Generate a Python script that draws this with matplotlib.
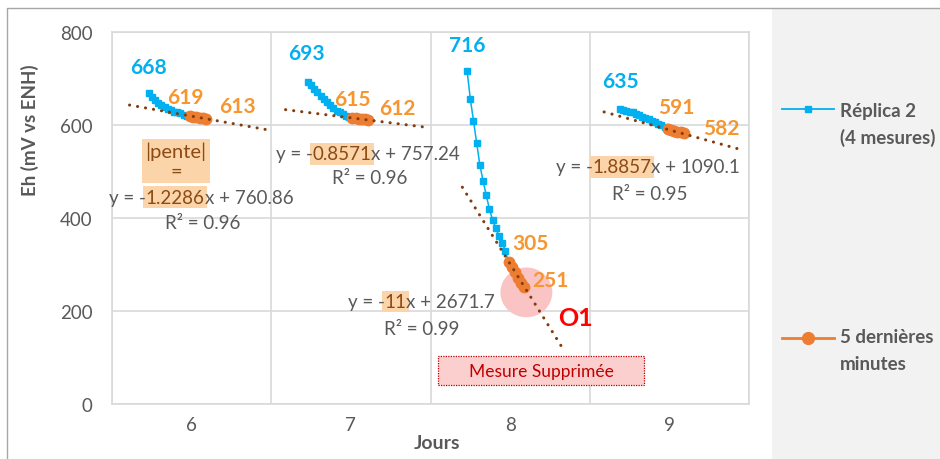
import matplotlib
matplotlib.use("Agg")
import matplotlib.pyplot as plt
from matplotlib.patches import Ellipse, Rectangle
from matplotlib.lines import Line2D
import numpy as np

plt.rcParams['font.family'] = ['Lato', 'DejaVu Sans']

# couleurs
BLUE = '#00B0F0'
ORANGE = '#ED7D31'
LBL_ORANGE = '#F7962F'
TREND = '#843C0C'
GREY = '#595959'
HILITE = '#FBD5A9'
HILITE_TXT = '#8C4A14'

# données : une valeur par minute, 50 minutes par jour sur l'axe
days = [6, 7, 8, 9]
first_min = 90.5          # bord gauche du jour 6 (index de minute)
min_per_day = 50
start_idx = [102, 152, 202, 250]
eh_day6 = [668, 661, 654, 648, 643, 639, 635, 632, 629, 627, 625, 622, 620,
           619, 618, 617, 616, 614, 613]
eh_day7 = [693, 686, 678, 670, 663, 656, 649, 643, 637, 631, 627, 623, 620, 617,
           615, 614.4, 613.6, 613, 612.2, 611.8]
eh_day8 = [716, 656, 609, 561, 514, 480, 449, 419, 396, 378, 361, 346, 330,
           305, 295, 283, 272, 261, 251]
eh_day9 = [635, 633, 631, 629, 627, 624, 621, 618, 615, 612, 609, 606, 603, 599, 595,
           591, 589, 587.5, 585, 584, 582]
series = [eh_day6, eh_day7, eh_day8, eh_day9]
n_last = 6   # points des 5 dernières minutes

# courbes de tendance (équations affichées par Excel)
slopes = [-1.2286, -0.8571, -11, -1.8857]
intercepts = [760.86, 757.24, 2671.7, 1090.1]
r2 = [0.96, 0.96, 0.99, 0.95]
trend_from = [96, 145, 200.5, 245]
trend_to = [140, 190, 232, 288]

# positions des textes (index, mV)
eq_pos = [(110.3, 445), (162.7, 538), (179.5, 220), (250.6, 510)]
r2_pos = [(119.1, 391), (171.3, 488), (187.8, 163), (259.3, 452)]
# décalages des étiquettes (points)
off_first_blue = [(0, 19), (-1, 21), (0, 19), (0, 20)]
off_first_or = [(-3, 14), (0, 14), (16, 14), (6, 16)]
off_last_or = [(23, 9), (21, 8), (19, 5), (27, 4)]

fig = plt.figure(figsize=(9.4, 4.6), dpi=100)
ax = fig.add_axes([112 / 940, 1 - 405 / 460, 637 / 940, 372 / 460])

for k, vals in enumerate(series):
    x = np.arange(start_idx[k], start_idx[k] + len(vals))
    y = np.array(vals, dtype=float)
    ax.plot(x, y, color=BLUE, lw=1.1, marker='s', ms=4.3, mec=BLUE, mfc=BLUE, zorder=3)
    ax.plot(x[-n_last:], y[-n_last:], color=ORANGE, lw=3, marker='o', ms=7.5,
            mec=ORANGE, mfc=ORANGE, zorder=4)
    xt = np.array([trend_from[k], trend_to[k]])
    ax.plot(xt, slopes[k] * xt + intercepts[k], color=TREND, lw=2.2,
            linestyle=(0, (0.05, 2.6)), dash_capstyle='round', zorder=5)

    ax.annotate(f"{y[0]:.0f}", (x[0], y[0]), textcoords='offset points',
                xytext=off_first_blue[k], ha='center', va='center', color=BLUE,
                fontsize=15, fontweight='bold', zorder=7)
    ax.annotate(f"{y[-n_last]:.0f}", (x[-n_last], y[-n_last]), textcoords='offset points',
                xytext=off_first_or[k], ha='center', va='center', color=LBL_ORANGE,
                fontsize=15, fontweight='bold', zorder=7)
    ax.annotate(f"{y[-1]:.0f}", (x[-1], y[-1]), textcoords='offset points',
                xytext=off_last_or[k], ha='center', va='center', color=LBL_ORANGE,
                fontsize=15, fontweight='bold', zorder=7)

    # équation avec la pente surlignée
    num = ax.text(eq_pos[k][0], eq_pos[k][1], f"{abs(slopes[k]):g}", ha='center',
                  va='center', fontsize=13.5, color=HILITE_TXT, zorder=6,
                  bbox=dict(boxstyle='square,pad=0.12', fc=HILITE, ec='none'))
    ax.annotate("y = -", xy=(0, 0.5), xycoords=num, ha='right', va='center',
                fontsize=13.5, color=GREY, zorder=6)
    ax.annotate(f"x + {intercepts[k]:g}", xy=(1, 0.5), xycoords=num, ha='left',
                va='center', fontsize=13.5, color=GREY, zorder=6)
    ax.text(r2_pos[k][0], r2_pos[k][1], f"R² = {r2[k]:.2f}", ha='center', va='center',
            fontsize=13.5, color=GREY, zorder=6)

ax.text(110.6, 523, "|pente|\n=", ha='center', va='center', fontsize=14.5,
        color=HILITE_TXT, linespacing=1.2, zorder=6,
        bbox=dict(boxstyle='square,pad=0.15', fc=HILITE, ec='none'))

# mesure supprimée (jour 8)
ax.add_patch(Ellipse((220.6, 240), 16.3, 107, fc='#FAC4C4', ec='none', zorder=2))
ax.text(235.9, 185, "O1", color='#FF0000', fontsize=18, fontweight='bold',
        ha='center', va='center', zorder=7)
ax.add_patch(Rectangle((192.9, 41), 64.6, 62, fc='#FCCFCF', ec='#C00000', lw=0.9,
                       linestyle=(0, (1, 1)), zorder=6))
ax.text(225.2, 72, "Mesure Supprimée", color='#C00000', fontsize=12.5,
        ha='center', va='center', zorder=7)

# axes
ax.set_xlim(first_min, first_min + min_per_day * len(days))
ax.set_ylim(0, 800)
ax.set_xticks([first_min + min_per_day * (i + 0.5) for i in range(len(days))])
ax.set_xticklabels([str(d) for d in days])
ax.set_xticks([first_min + min_per_day * i for i in range(len(days) + 1)], minor=True)
ax.set_yticks(range(0, 801, 200))
ax.tick_params(which='both', length=0, labelsize=13.5, labelcolor=GREY)
ax.tick_params(axis='y', pad=14)
ax.tick_params(axis='x', pad=9)
ax.grid(which='minor', axis='x', color='#D9D9D9', lw=1.2)
ax.grid(which='major', axis='y', color='#D9D9D9', lw=1.2)
ax.grid(which='major', axis='x', visible=False)
ax.set_axisbelow(True)
for sp in ax.spines.values():
    sp.set_color('#D9D9D9')
    sp.set_linewidth(1.2)

fig.text(30 / 940, 1 - 130 / 460, "Eh (mV vs ENH)", rotation=90, ha='center',
         va='center', fontsize=13.5, fontweight='bold', color=GREY)
fig.text(437 / 940, 1 - 444 / 460, "Jours", ha='center', va='center',
         fontsize=14, fontweight='bold', color=GREY)

# cadre et panneau de légende
fig.add_artist(Line2D([7 / 940, 7 / 940, 1], [0, 1 - 9 / 460, 1 - 9 / 460],
                      transform=fig.transFigure, color='#A6A6A6', lw=1))
fig.add_artist(Rectangle((772 / 940, 0), 1 - 772 / 940, 1 - 10 / 460,
                         transform=fig.transFigure, fc='#F2F2F2', ec='none', zorder=0))
for yy, col, mk, ms, lw in [(110, BLUE, 's', 5, 1.3), (339, ORANGE, 'o', 8.5, 2)]:
    fig.add_artist(Line2D([782 / 940, 834 / 940], [1 - yy / 460] * 2,
                          transform=fig.transFigure, color=col, lw=lw))
    fig.add_artist(Line2D([808 / 940], [1 - yy / 460], transform=fig.transFigure,
                          color=col, marker=mk, ms=ms, lw=0))
for yy, txt in [(111, "Réplica 2"), (138, "(4 mesures)"),
                (338, "5 dernières"), (365, "minutes")]:
    fig.text(840 / 940, 1 - yy / 460, txt, ha='left', va='center', fontsize=13.5,
             fontweight='bold', color=GREY)

fig.savefig("out.png", dpi=100)
